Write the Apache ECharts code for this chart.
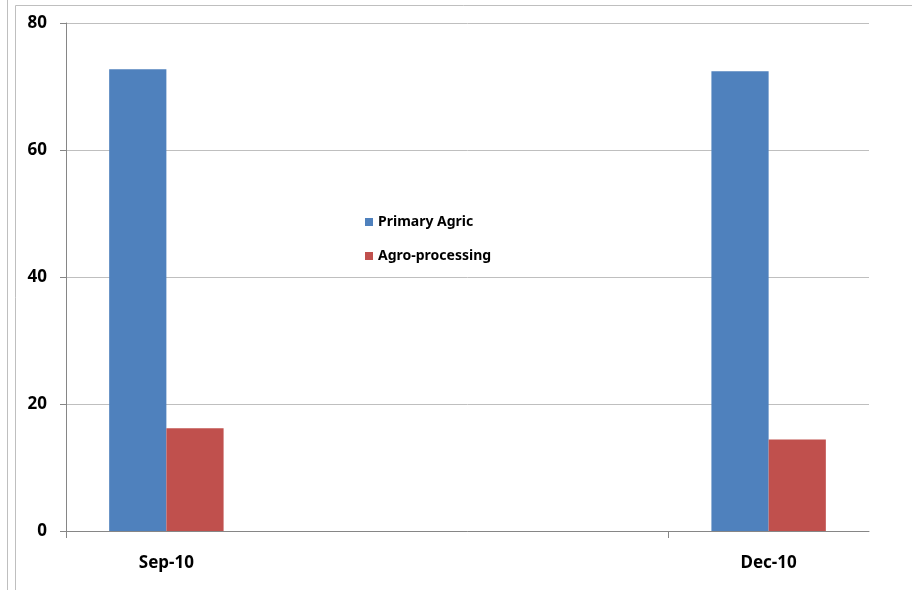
<!DOCTYPE html>
<html>
<head>
<meta charset="utf-8">
<script src="https://cdn.jsdelivr.net/npm/echarts@6/dist/echarts.min.js"></script>
<style>
html,body{margin:0;padding:0;background:#fff;}
#chart{width:912px;height:590px;}
</style>
</head>
<body>
<div id="chart"></div>
<script>
var categories = ['Sep-10', 'Oct-10', 'Nov-10', 'Dec-10'];
var primaryAgric = [72.7, null, null, 72.4];
var agroProcessing = [16.2, null, null, 14.4];
var yTicks = [0, 20, 40, 60, 80];
var xTickPositions = [0, 3];

var chart = echarts.init(document.getElementById('chart'));
var font = "'Noto Sans', 'Liberation Sans', sans-serif";
chart.setOption({
  animation: false,
  backgroundColor: '#ffffff',
  graphic: [
    {type: 'line', shape: {x1: 7.5, y1: 0, x2: 7.5, y2: 590}, style: {stroke: '#bfbfbf', lineWidth: 1}},
    {type: 'line', shape: {x1: 15.5, y1: 5.5, x2: 15.5, y2: 590}, style: {stroke: '#bfbfbf', lineWidth: 1}},
    {type: 'line', shape: {x1: 15.5, y1: 5.5, x2: 912, y2: 5.5}, style: {stroke: '#bfbfbf', lineWidth: 1}}
  ],
  grid: {left: 66, top: 23, right: 43, bottom: 59, containLabel: false},
  legend: {
    orient: 'vertical',
    left: 360,
    top: 210,
    itemWidth: 8,
    itemHeight: 8,
    itemGap: 20,
    icon: 'rect',
    textStyle: {fontFamily: font, fontWeight: 'bold', fontSize: 14, color: '#000'},
    data: ['Primary Agric', 'Agro-processing']
  },
  xAxis: [{
    type: 'category',
    data: categories,
    position: 'bottom',
    axisLine: {lineStyle: {color: '#868686', width: 1}},
    axisTick: {show: false},
    axisLabel: {
      interval: function (i) { return i % 3 === 0; },
      margin: 24,
      fontFamily: font, fontWeight: 'bold', fontSize: 17, color: '#000'
    },
    splitLine: {show: false}
  }, {
    type: 'value',
    min: 0,
    max: categories.length,
    position: 'bottom',
    offset: 0,
    axisLine: {show: false},
    axisLabel: {show: false},
    splitLine: {show: false},
    axisTick: {show: true, length: 7, customValues: xTickPositions, lineStyle: {color: '#868686'}}
  }],
  yAxis: {
    type: 'value',
    min: yTicks[0],
    max: yTicks[yTicks.length - 1],
    interval: yTicks[1] - yTicks[0],
    axisLine: {show: true, lineStyle: {color: '#868686', width: 1}},
    axisTick: {show: true, inside: false, length: 6, lineStyle: {color: '#868686'}},
    axisLabel: {margin: 19, fontFamily: font, fontWeight: 'bold', fontSize: 17, color: '#000'},
    splitLine: {show: true, lineStyle: {color: '#bfbfbf', width: 1}}
  },
  series: [
    {
      name: 'Primary Agric', type: 'bar', data: primaryAgric,
      barGap: '0%', barCategoryGap: '43%',
      itemStyle: {color: '#4f81bd'}
    },
    {
      name: 'Agro-processing', type: 'bar', data: agroProcessing,
      itemStyle: {color: '#c0504d'}
    }
  ]
});
</script>
</body>
</html>
